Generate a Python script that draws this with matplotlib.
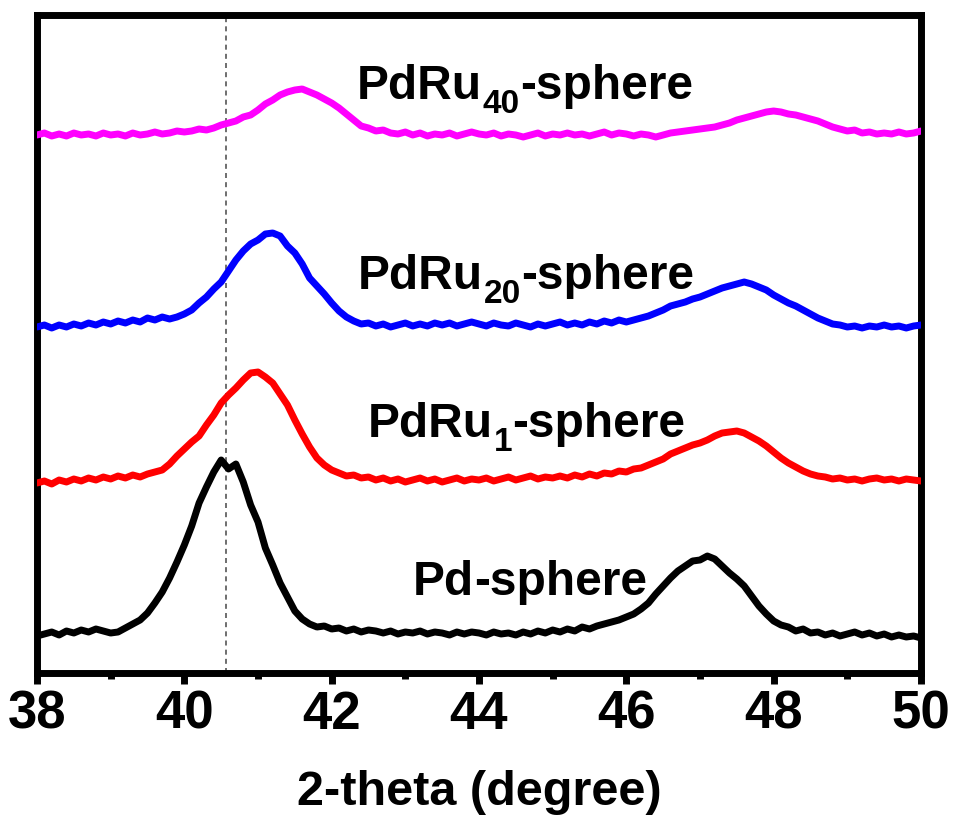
import numpy as np
import matplotlib
matplotlib.use("Agg")
import matplotlib.pyplot as plt
from matplotlib.ticker import MultipleLocator
from matplotlib.transforms import offset_copy

plt.rcParams['font.family'] = ['Liberation Sans', 'DejaVu Sans']
plt.rcParams['font.weight'] = 'bold'

# 2-theta grid (degree), 38.0 .. 50.0 step 0.1
two_theta = np.round(np.arange(380, 501) / 10.0, 1)

# Stacked intensities (a.u., offsets included), one row per degree
pd_sphere = [
    32, 34, 36, 33, 37, 35, 38, 36, 39, 37,
    35, 36, 40, 44, 48, 55, 65, 76, 90, 106,
    123, 142, 165, 181, 196, 208, 199, 204, 186, 163,
    146, 120, 103, 85, 71, 57, 49, 44, 41, 42,
    39, 40, 37, 39, 36, 38, 37, 35, 37, 34,
    36, 35, 37, 34, 36, 35, 33, 36, 34, 36,
    35, 33, 36, 34, 35, 33, 36, 34, 37, 35,
    38, 36, 39, 37, 41, 39, 42, 44, 46, 48,
    51, 54, 59, 65, 74, 82, 90, 97, 102, 107,
    108, 112, 109, 102, 95, 89, 82, 72, 62, 54,
    47, 43, 41, 37, 39, 35, 36, 33, 35, 32,
    34, 36, 33, 35, 32, 34, 31, 33, 31, 32,
    30,
]
pdru1_sphere = [
    185, 187, 184, 188, 186, 189, 187, 190, 188, 191,
    189, 192, 190, 193, 191, 194, 196, 198, 204, 212,
    219, 226, 232, 243, 253, 265, 273, 280, 288, 295,
    296, 291, 285, 274, 263, 248, 234, 221, 210, 203,
    198, 195, 192, 193, 190, 191, 188, 190, 187, 189,
    186, 188, 190, 187, 189, 186, 188, 190, 187, 189,
    188, 190, 187, 189, 191, 188, 190, 192, 189, 191,
    190, 192, 190, 193, 191, 194, 192, 195, 194, 197,
    196, 199, 200, 203, 206, 209, 214, 217, 220, 223,
    225, 228, 232, 235, 236, 237, 235, 231, 227, 222,
    216, 210, 205, 201, 197, 194, 192, 191, 189, 190,
    188, 189, 187, 189, 190, 188, 189, 187, 189, 188,
    187,
]
pdru20_sphere = [
    341, 343, 340, 343, 341, 344, 342, 345, 343, 346,
    344, 347, 345, 348, 346, 350, 348, 351, 349, 351,
    354, 358, 365, 371, 379, 386, 397, 408, 417, 424,
    428, 434, 435, 432, 422, 415, 404, 390, 382, 374,
    365, 357, 351, 347, 344, 345, 342, 344, 341, 343,
    345, 342, 344, 342, 345, 343, 345, 342, 344, 346,
    344, 342, 345, 343, 342, 345, 343, 341, 344, 342,
    344, 346, 343, 345, 343, 346, 344, 347, 345, 348,
    346, 348, 350, 352, 355, 358, 362, 364, 366, 369,
    371, 374, 377, 380, 382, 384, 386, 384, 381, 378,
    373, 369, 365, 362, 358, 354, 350, 347, 344, 343,
    341, 342, 340, 342, 341, 343, 341, 342, 340, 342,
    343,
]
pdru40_sphere = [
    533, 535, 532, 534, 532, 535, 533, 534, 532, 535,
    533, 534, 532, 535, 533, 534, 536, 534, 535, 537,
    536, 537, 539, 538, 540, 543, 545, 547, 551, 553,
    558, 564, 568, 573, 576, 578, 579, 576, 573, 569,
    565, 560, 554, 548, 542, 540, 537, 538, 535, 534,
    536, 533, 535, 532, 534, 533, 535, 532, 534, 536,
    534, 533, 535, 532, 534, 533, 531, 533, 535, 532,
    534, 533, 535, 533, 534, 532, 534, 536, 533, 535,
    534, 532, 534, 533, 531, 533, 535, 536, 537, 538,
    539, 540, 541, 543, 545, 548, 550, 552, 554, 556,
    557, 556, 554, 553, 551, 549, 547, 544, 541, 539,
    537, 538, 535, 536, 534, 535, 534, 536, 534, 535,
    537,
]

# label parts: (main, subscript, rest), x (degree), baseline y (a.u.)
series = [
    (pd_sphere, 'black', ('Pd', '', '-sphere'), 43.10, 73),
    (pdru1_sphere, '#ff0000', ('PdRu', '1', '-sphere'), 42.49, 231),
    (pdru20_sphere, '#0000ff', ('PdRu', '20', '-sphere'), 42.36, 379),
    (pdru40_sphere, '#ff00ff', ('PdRu', '40', '-sphere'), 42.34, 569),
]
ref_line = 40.57
xticks = [38, 40, 42, 44, 46, 48, 50]

W, H = 954, 822
fig = plt.figure(figsize=(W / 100, H / 100), dpi=100)
ax = fig.add_axes([37 / W, 1 - 673 / H, (921 - 37) / W, (673 - 15) / H])

ax.axvline(ref_line, color='#555555', lw=1.2, ls=(0, (3, 2.5)), zorder=1)

ax.set_xlim(38, 50)
ax.set_ylim(-5, 653)

renderer = fig.canvas.get_renderer()
MAIN_FS = 34.5
SUB_FS = 24
SUB_DROP = 14  # pixels

for vals, col, parts, tx, ty in series:
    ax.plot(two_theta, vals, color=col, lw=5, solid_joinstyle='round',
            solid_capstyle='round', zorder=3)
    main, sub, rest = parts
    t1 = ax.text(tx, ty, main, fontsize=MAIN_FS, fontweight='bold',
                 ha='left', va='baseline', zorder=4)
    w1 = t1.get_window_extent(renderer).width
    dx = w1
    if sub:
        tr = offset_copy(ax.transData, fig=fig, x=dx + 1, y=-SUB_DROP, units='dots')
        t2 = ax.text(tx, ty, sub, fontsize=SUB_FS, fontweight='bold',
                     ha='left', va='baseline', transform=tr, zorder=4)
        dx += t2.get_window_extent(renderer).width + 1
    tr = offset_copy(ax.transData, fig=fig, x=dx, y=0, units='dots')
    ax.text(tx, ty, rest, fontsize=MAIN_FS, fontweight='bold',
            ha='left', va='baseline', transform=tr, zorder=4)

ax.set_xticks(xticks)
ax.set_xticklabels([str(t) for t in xticks])
ax.xaxis.set_minor_locator(MultipleLocator(1))
ax.set_yticks([])
for s in ax.spines.values():
    s.set_linewidth(5)
ax.tick_params(axis='x', which='major', direction='out', length=8, width=5,
               labelsize=38, pad=4)
ax.tick_params(axis='x', which='minor', direction='out', length=4, width=5)
for lbl in ax.get_xticklabels():
    lbl.set_fontweight('bold')
ax.set_xlabel('2-theta (degree)', fontsize=35, fontweight='bold', labelpad=22)

fig.savefig('out.png', dpi=100)
